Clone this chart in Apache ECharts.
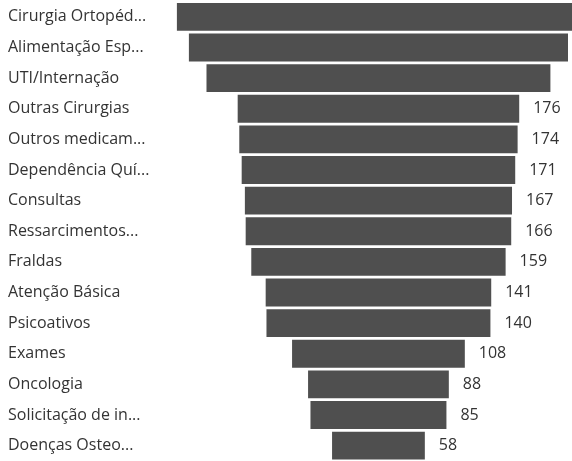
<!DOCTYPE html>
<html>
<head>
<meta charset="utf-8">
<script src="https://cdn.jsdelivr.net/npm/echarts@6/dist/echarts.min.js"></script>
<style>html,body{margin:0;padding:0;background:#fff}#c{width:572px;height:461px}</style>
</head>
<body>
<div id="c"></div>
<script>
const categories = ["Cirurgia Ortopéd...", "Alimentação Esp...", "UTI/Internação", "Outras Cirurgias", "Outros medicam...", "Dependência Quí...", "Consultas", "Ressarcimentos...", "Fraldas", "Atenção Básica", "Psicoativos", "Exames", "Oncologia", "Solicitação de in...", "Doenças Osteo..."];
const values = [252, 237, 215, 176, 174, 171, 167, 166, 159, 141, 140, 108, 88, 85, 58];
const hiddenLabels = ["Cirurgia Ortopéd...", "Alimentação Esp...", "UTI/Internação"];

// funnel centre on the value axis (axis runs 0 .. centre + visible half on the right)
const centre = 130;
const font = "'Open Sans', sans-serif";
const chart = echarts.init(document.getElementById('c'));
chart.setOption({
  animation: false,
  grid: { left: 170.5, top: 1.5, right: 0, height: 461 },
  xAxis: { type: 'value', min: 0, max: 251, show: false },
  yAxis: {
    type: 'category', data: categories, inverse: true,
    axisLine: { show: false }, axisTick: { show: false },
    axisLabel: { align: 'left', margin: 162.5, color: '#333', fontSize: 16, fontFamily: font }
  },
  series: [
    {
      type: 'bar', stack: 'f', data: values.map(v => centre - v / 2), barCategoryGap: '9%',
      itemStyle: { color: 'rgba(0,0,0,0)' }, silent: true
    },
    {
      type: 'bar', stack: 'f', data: values, barCategoryGap: '9%',
      itemStyle: { color: '#4f4f4f' },
      label: {
        show: true, position: 'right', distance: 14, color: '#333', fontSize: 16, fontFamily: font,
        formatter: p => hiddenLabels.includes(categories[p.dataIndex]) ? '' : String(values[p.dataIndex])
      }
    }
  ]
});
</script>
</body>
</html>
